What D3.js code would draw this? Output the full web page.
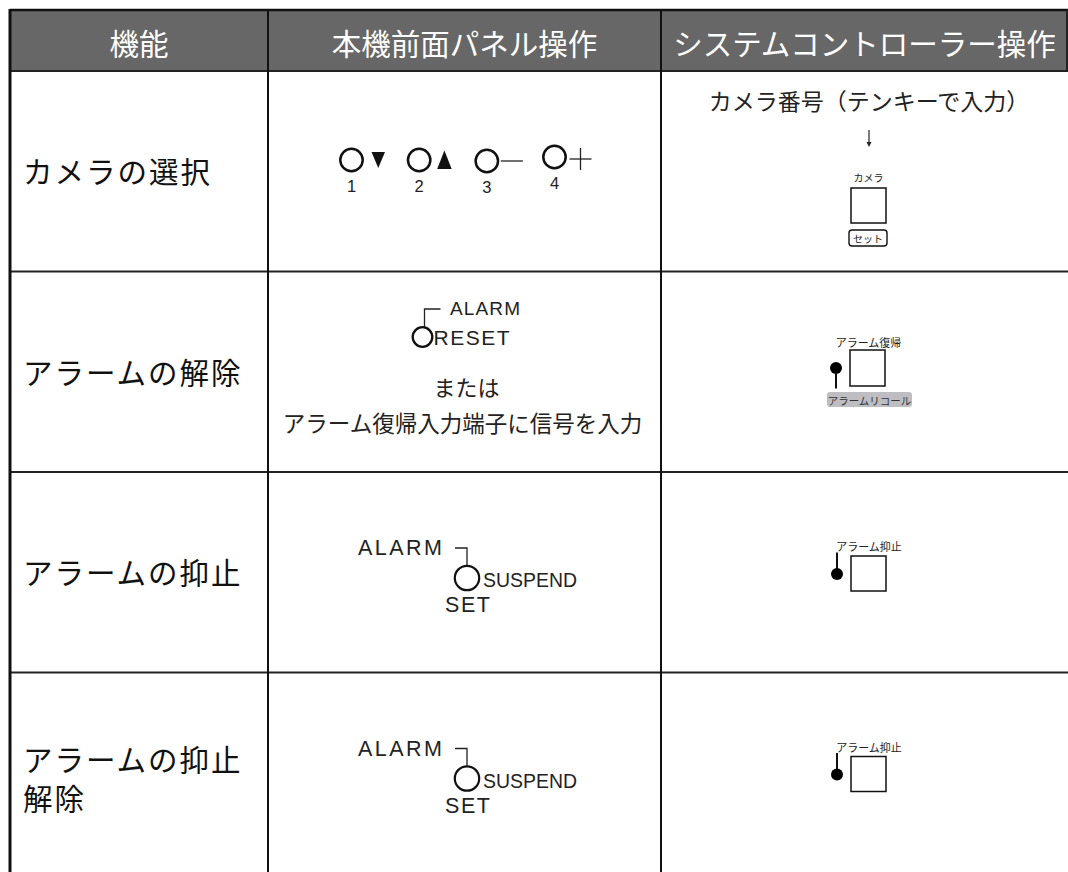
<!DOCTYPE html>
<html><head><meta charset="utf-8">
<script src="https://cdn.jsdelivr.net/npm/d3@7"></script>
<style>html,body{margin:0;padding:0;background:#fff;}svg{display:block;}</style>
</head><body>
<svg id="c" width="1068" height="872"></svg>
<script>
// ---- content ----
const headers = ["機能", "本機前面パネル操作", "システムコントローラー操作"];
const functionLabels = [["カメラの選択"], ["アラームの解除"], ["アラームの抑止"], ["アラームの抑止", "解除"]];
const cameraKeyNumbers = ["1", "2", "3", "4"];
const cameraKeySymbols = ["down", "up", "minus", "plus"];
const resetPanelLabels = ["ALARM", "RESET"];
const orText = "または";
const resetInputText = "アラーム復帰入力端子に信号を入力";
const suspendPanelLabels = ["ALARM", "SUSPEND", "SET"];
const cameraSelectText = "カメラ番号（テンキーで入力）";
const controllerKeyTitles = ["カメラ", "アラーム復帰", "アラーム抑止", "アラーム抑止"];
const controllerSubLabels = ["セット", "アラームリコール"];

// ---- layout ----
const JP = "'Noto Sans CJK JP','Noto Sans',sans-serif";
const LAT = "'Liberation Sans',Arial,sans-serif";
const svg = d3.select("#c");
const colEdges = [10, 268, 661, 1068];
const headerTop = 10, headerBottom = 71;
const y = d3.scaleBand().domain(d3.range(functionLabels.length)).range([71, 873]).padding(0);
const colCenter = i => (colEdges[i] + colEdges[i + 1]) / 2;

// header
svg.append("rect").attr("x", colEdges[0]).attr("y", headerTop).attr("width", colEdges[3] - colEdges[0]).attr("height", headerBottom - headerTop).attr("fill", "#676767");
svg.selectAll("text.h").data(headers).join("text").attr("class", "h")
  .attr("x", (d, i) => colCenter(i)).attr("y", (headerTop + headerBottom) / 2 + 1)
  .attr("text-anchor", "middle").attr("dominant-baseline", "central")
  .attr("font-family", JP).attr("font-size", 29.5).attr("fill", "#fff").text(d => d);

// grid lines
const g = svg.append("g");
g.selectAll("line.r").data(d3.range(functionLabels.length)).join("line")
  .attr("x1", colEdges[0]).attr("x2", 1068).attr("y1", d => y(d)).attr("y2", d => y(d))
  .attr("stroke", "#222").attr("stroke-width", 2.2);
g.append("line").attr("x1", colEdges[0]).attr("x2", 1068).attr("y1", headerTop).attr("y2", headerTop).attr("stroke", "#111").attr("stroke-width", 2.5);
g.selectAll("line.v").data([colEdges[1], colEdges[2]]).join("line")
  .attr("x1", d => d).attr("x2", d => d).attr("y1", headerTop).attr("y2", 872)
  .attr("stroke", "#111").attr("stroke-width", 2);
g.append("line").attr("x1", colEdges[0]).attr("x2", colEdges[0]).attr("y1", headerTop - 1).attr("y2", 872).attr("stroke", "#111").attr("stroke-width", 3);
g.append("line").attr("x1", 1067).attr("x2", 1067).attr("y1", headerTop).attr("y2", headerBottom).attr("stroke", "#222").attr("stroke-width", 2);

// function labels
functionLabels.forEach((lines, i) => {
  const c = y(i) + y.bandwidth() / 2 + (lines.length > 1 ? -15 : -1);
  lines.forEach((t, k) => {
    svg.append("text").attr("x", 23).attr("y", c + k * 39)
      .attr("dominant-baseline", "central").attr("font-family", JP).attr("font-size", 29.5)
      .attr("letter-spacing", 2).attr("fill", "#111").text(t);
  });
});

// ---- column 2 ----
const cx2 = colCenter(1);
const keyX = d3.scalePoint().domain(cameraKeyNumbers).range([cx2 - 113, cx2 + 90]);
const keyDy = [0, 0, 1, -3];
const r1 = y(0);
cameraKeyNumbers.forEach((k, i) => {
  const kx = keyX(k), ky = r1 + 89 + keyDy[i];
  svg.append("circle").attr("cx", kx).attr("cy", ky).attr("r", 11.2).attr("fill", "none").attr("stroke", "#111").attr("stroke-width", 2.5);
  svg.append("text").attr("x", kx).attr("y", ky + 32).attr("text-anchor", "middle").attr("font-family", LAT).attr("font-size", 16.5).attr("fill", "#222").text(k);
  const sx = kx + 20, sy = ky;
  const s = cameraKeySymbols[i];
  if (s === "down") svg.append("path").attr("d", `M${sx},${sy - 8}h13.5l-6.75,16z`).attr("fill", "#111");
  if (s === "up") svg.append("path").attr("d", `M${sx - 2},${sy + 9}h14.5l-7.25,-18.5z`).attr("fill", "#111");
  if (s === "minus") svg.append("line").attr("x1", sx - 6).attr("x2", sx + 16).attr("y1", sy).attr("y2", sy).attr("stroke", "#222").attr("stroke-width", 1.3);
  if (s === "plus") {
    svg.append("line").attr("x1", sx - 5).attr("x2", sx + 17).attr("y1", sy + 2).attr("y2", sy + 2).attr("stroke", "#222").attr("stroke-width", 1.3);
    svg.append("line").attr("x1", sx + 6).attr("x2", sx + 6).attr("y1", sy - 9).attr("y2", sy + 13).attr("stroke", "#222").attr("stroke-width", 1.3);
  }
});

// row 2: alarm reset
const r2 = y(1);
svg.append("path").attr("d", `M${cx2 - 40},${r2 + 56}V${r2 + 37.5}H${cx2 - 24}`).attr("fill", "none").attr("stroke", "#222").attr("stroke-width", 1.3);
svg.append("circle").attr("cx", cx2 - 42).attr("cy", r2 + 65.5).attr("r", 9.8).attr("fill", "none").attr("stroke", "#111").attr("stroke-width", 2.3);
svg.append("text").attr("x", cx2 - 14.5).attr("y", r2 + 43.5).attr("font-family", LAT).attr("font-size", 19).attr("textLength", 70).attr("lengthAdjust", "spacing").attr("fill", "#222").text(resetPanelLabels[0]);
svg.append("text").attr("x", cx2 - 31).attr("y", r2 + 73.5).attr("font-family", LAT).attr("font-size", 21).attr("textLength", 76).attr("lengthAdjust", "spacing").attr("fill", "#222").text(resetPanelLabels[1]);
svg.append("text").attr("x", cx2 + 2).attr("y", r2 + 114.5).attr("text-anchor", "middle").attr("dominant-baseline", "central").attr("font-family", JP).attr("font-size", 22).attr("fill", "#222").text(orText);
svg.append("text").attr("x", cx2 - 2).attr("y", r2 + 150.5).attr("text-anchor", "middle").attr("dominant-baseline", "central").attr("font-family", JP).attr("font-size", 22.5).attr("fill", "#222").text(resetInputText);

// rows 3-4: suspend
[2, 3].forEach(ri => {
  const t = y(ri);
  svg.append("text").attr("x", cx2 - 106.5).attr("y", t + 83).attr("font-family", LAT).attr("font-size", 21.5).attr("textLength", 84).attr("lengthAdjust", "spacing").attr("fill", "#222").text(suspendPanelLabels[0]);
  svg.append("path").attr("d", `M${cx2 - 9.5},${t + 76}H${cx2 + 2.5}V${t + 94}`).attr("fill", "none").attr("stroke", "#222").attr("stroke-width", 1.3);
  svg.append("circle").attr("cx", cx2 + 2.5).attr("cy", t + 106).attr("r", 12.2).attr("fill", "none").attr("stroke", "#111").attr("stroke-width", 2.2);
  svg.append("text").attr("x", cx2 + 18.5).attr("y", t + 115).attr("font-family", LAT).attr("font-size", 20.5).attr("textLength", 94).attr("lengthAdjust", "spacingAndGlyphs").attr("fill", "#222").text(suspendPanelLabels[1]);
  svg.append("text").attr("x", cx2 - 19.5).attr("y", t + 140).attr("font-family", LAT).attr("font-size", 21.5).attr("textLength", 45).attr("lengthAdjust", "spacing").attr("fill", "#222").text(suspendPanelLabels[2]);
});

// ---- column 3 ----
const cx3 = colCenter(2);
svg.append("text").attr("x", cx3 + 4.5).attr("y", r1 + 29).attr("text-anchor", "middle").attr("dominant-baseline", "central").attr("font-family", JP).attr("font-size", 23).attr("fill", "#222").text(cameraSelectText);
svg.append("line").attr("x1", cx3 + 4.5).attr("x2", cx3 + 4.5).attr("y1", r1 + 59).attr("y2", r1 + 73).attr("stroke", "#222").attr("stroke-width", 1.2);
svg.append("path").attr("d", `M${cx3 + 2},${r1 + 71}h5l-2.5,5z`).attr("fill", "#222");
svg.append("text").attr("x", cx3 + 4).attr("y", r1 + 106.5).attr("text-anchor", "middle").attr("dominant-baseline", "central").attr("font-family", JP).attr("font-size", 10).attr("fill", "#222").text(controllerKeyTitles[0]);
svg.append("rect").attr("x", cx3 - 13.5).attr("y", r1 + 117).attr("width", 35).attr("height", 35).attr("fill", "#fff").attr("stroke", "#111").attr("stroke-width", 1.5);
svg.append("rect").attr("x", cx3 - 15.5).attr("y", r1 + 159).attr("width", 38).attr("height", 16).attr("rx", 3).attr("fill", "#fff").attr("stroke", "#111").attr("stroke-width", 1.4);
svg.append("text").attr("x", cx3 + 3.5).attr("y", r1 + 167.5).attr("text-anchor", "middle").attr("dominant-baseline", "central").attr("font-family", JP).attr("font-size", 10).attr("fill", "#222").text(controllerSubLabels[0]);

svg.append("text").attr("x", cx3 + 4).attr("y", r2 + 70.5).attr("text-anchor", "middle").attr("dominant-baseline", "central").attr("font-family", JP).attr("font-size", 11).attr("fill", "#222").text(controllerKeyTitles[1]);
svg.append("rect").attr("x", cx3 - 14.5).attr("y", r2 + 78.5).attr("width", 35).attr("height", 36).attr("fill", "#fff").attr("stroke", "#111").attr("stroke-width", 1.5);
svg.append("circle").attr("cx", cx3 - 28.5).attr("cy", r2 + 96.5).attr("r", 6).attr("fill", "#000");
svg.append("line").attr("x1", cx3 - 28.5).attr("x2", cx3 - 28.5).attr("y1", r2 + 100).attr("y2", r2 + 117).attr("stroke", "#111").attr("stroke-width", 2);
svg.append("rect").attr("x", cx3 - 37.5).attr("y", r2 + 120.5).attr("width", 85).attr("height", 15).attr("rx", 3).attr("fill", "#bebec2");
svg.append("text").attr("x", cx3 + 5).attr("y", r2 + 128.5).attr("text-anchor", "middle").attr("dominant-baseline", "central").attr("font-family", JP).attr("font-size", 10.5).attr("fill", "#333").text(controllerSubLabels[1]);

[2, 3].forEach(ri => {
  const t = y(ri);
  svg.append("text").attr("x", cx3 + 4.5).attr("y", t + 74).attr("text-anchor", "middle").attr("dominant-baseline", "central").attr("font-family", JP).attr("font-size", 11).attr("fill", "#222").text(controllerKeyTitles[ri]);
  svg.append("line").attr("x1", cx3 - 27.5).attr("x2", cx3 - 27.5).attr("y1", t + 80.5).attr("y2", t + 98).attr("stroke", "#111").attr("stroke-width", 2);
  svg.append("circle").attr("cx", cx3 - 27.5).attr("cy", t + 102).attr("r", 6).attr("fill", "#000");
  svg.append("rect").attr("x", cx3 - 13.5).attr("y", t + 84).attr("width", 35).attr("height", 35).attr("fill", "#fff").attr("stroke", "#111").attr("stroke-width", 1.5);
});
</script>
</body></html>
